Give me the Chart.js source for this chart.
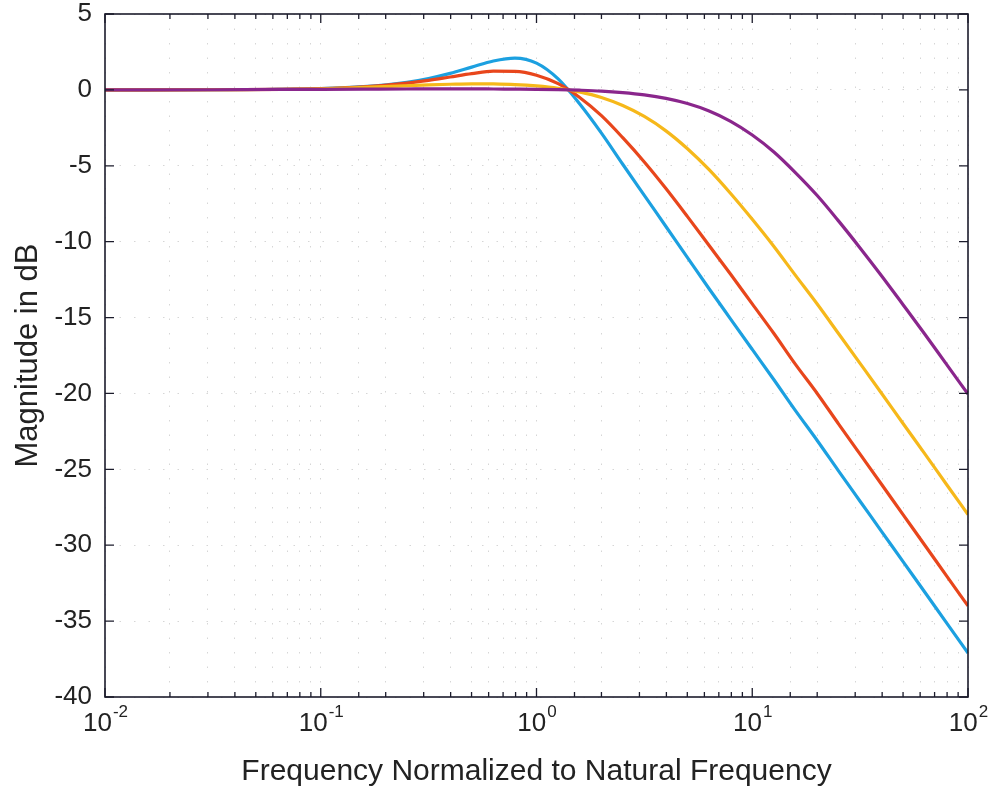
<!DOCTYPE html>
<html>
<head>
<meta charset="utf-8">
<script src="https://cdn.jsdelivr.net/npm/chart.js@4.4.0/dist/chart.umd.min.js"></script>
<style>
  html, body { margin: 0; padding: 0; background: #fff; }
  #wrap { width: 989px; height: 795px; }
</style>
</head>
<body>
<div id="wrap"><canvas id="myChart" width="989" height="795"></canvas></div>
<script>
// DATOS
const freqs = [0.01, 0.0316, 0.1, 0.158, 0.251, 0.316, 0.398, 0.501, 0.631, 0.794,
  1, 1.26, 1.58, 2.0, 2.51, 3.16, 3.98, 5.01, 6.31, 7.94,
  10, 12.6, 15.8, 20, 25.1, 31.6, 39.8, 50.1, 63.1, 79.4, 100]

const blueDb = [0, 0.01, 0.09, 0.21, 0.5, 0.75, 1.09, 1.5, 1.9, 2.09,
  1.76, 0.72, -0.9, -2.85, -4.9, -6.95, -9.0, -11.05, -13.1, -15.1,
  -17.1, -19.1, -21.1, -23.1, -25.1, -27.1, -29.1, -31.1, -33.1, -35.1, -37.1]

const redDb = [0, 0.01, 0.08, 0.2, 0.45, 0.63, 0.85, 1.07, 1.23, 1.22,
  0.97, 0.41, -0.48, -1.7, -3.15, -4.75, -6.5, -8.35, -10.25, -12.15,
  -14.1, -16.05, -18.05, -20.0, -22.0, -24.0, -26.0, -28.0, -30.0, -32.0, -34.0]

const yellowDb = [0, 0.01, 0.075, 0.16, 0.27, 0.33, 0.37, 0.4, 0.39, 0.35,
  0.26, 0.11, -0.13, -0.5, -1.03, -1.75, -2.7, -3.88, -5.26, -6.83,
  -8.53, -10.32, -12.19, -14.11, -16.05, -18.02, -20.0, -22.0, -23.98, -25.98, -27.98]

const purpleDb = [0, 0.01, 0.04, 0.05, 0.06, 0.07, 0.07, 0.07, 0.06, 0.05,
  0.04, 0.02, -0.02, -0.08, -0.18, -0.33, -0.56, -0.9, -1.39, -2.07,
  -2.97, -4.09, -5.43, -6.96, -8.63, -10.41, -12.26, -14.17, -16.1, -18.07, -20.04]

// etiquetas eje x: base y exponente
const xTickVals = [0.01, 0.1, 1, 10, 100]
const xTickExp = ['-2', '-1', '0', '1', '2']
const yTicks = [5, 0, -5, -10, -15, -20, -25, -30, -35, -40]

const xTitle = 'Frequency Normalized to Natural Frequency'
const yTitle = 'Magnitude in dB'

const FUENTE = '"Liberation Sans", Arial, sans-serif'

function puntos(vals) {
  return freqs.map((f, i) => ({ x: f, y: vals[i] }))
}

function esMayor(v) {
  let l = Math.log10(v)
  return Math.abs(l - Math.round(l)) < 1e-6
}

// MARCO, TICKS HACIA DENTRO Y ETIQUETAS 10^n
const marcoPlugin = {
  id: 'marco',
  afterDatasetsDraw(chart) {
    const { ctx, chartArea: a, scales } = chart
    ctx.save()
    ctx.strokeStyle = '#1c1c2c'
    ctx.lineWidth = 1.6
    ctx.strokeRect(a.left, a.top, a.right - a.left, a.bottom - a.top)
    ctx.lineWidth = 1.3
    ctx.beginPath()
    scales.x.ticks.forEach(t => {
      let px = scales.x.getPixelForValue(t.value)
      let len = esMayor(t.value) ? 9 : 5
      ctx.moveTo(px, a.bottom); ctx.lineTo(px, a.bottom - len)
      ctx.moveTo(px, a.top); ctx.lineTo(px, a.top + len)
    })
    scales.y.ticks.forEach(t => {
      let py = scales.y.getPixelForValue(t.value)
      ctx.moveTo(a.left, py); ctx.lineTo(a.left + 9, py)
      ctx.moveTo(a.right, py); ctx.lineTo(a.right - 9, py)
    })
    ctx.stroke()

    // etiquetas con superindice
    ctx.fillStyle = '#222'
    ctx.textBaseline = 'alphabetic'
    ctx.textAlign = 'left'
    xTickVals.forEach((v, i) => {
      let px = scales.x.getPixelForValue(v)
      ctx.font = '26px ' + FUENTE
      let w1 = ctx.measureText('10').width
      ctx.font = '17px ' + FUENTE
      let w2 = ctx.measureText(xTickExp[i]).width
      let x0 = px - (w1 + w2) / 2
      ctx.font = '26px ' + FUENTE
      ctx.fillText('10', x0, a.bottom + 34)
      ctx.font = '17px ' + FUENTE
      ctx.fillText(xTickExp[i], x0 + w1 + 1, a.bottom + 20)
    })
    ctx.restore()
  }
}

var ctx = document.getElementById('myChart').getContext('2d')

var chart = new Chart(ctx, {
  type: 'line',
  data: {
    datasets: [
      { label: 'blue', data: puntos(blueDb), borderColor: '#1ca0e0', order: 4 },
      { label: 'red', data: puntos(redDb), borderColor: '#e8461c', order: 3 },
      { label: 'yellow', data: puntos(yellowDb), borderColor: '#f6b81a', order: 2 },
      { label: 'purple', data: puntos(purpleDb), borderColor: '#8a268c', order: 1 }
    ]
  },
  options: {
    responsive: false,
    animation: false,
    layout: { padding: { left: 0, right: 21, top: 14, bottom: 0 } },
    elements: {
      line: { borderWidth: 3.2, cubicInterpolationMode: 'monotone', fill: false },
      point: { radius: 0 }
    },
    plugins: { legend: { display: false }, tooltip: { enabled: false } },
    scales: {
      x: {
        type: 'logarithmic',
        min: 0.01,
        max: 100,
        afterFit: s => { s.height = 98 },
        grid: { color: '#d6d6d6', lineWidth: 1, drawTicks: false },
        border: { display: false, dash: [1.5, 13] },
        ticks: { display: false, autoSkip: false },
        title: {
          display: true,
          text: xTitle,
          color: '#222',
          padding: { top: 0, bottom: 5 },
          font: { family: FUENTE, size: 30 }
        }
      },
      y: {
        min: -40,
        max: 5,
        afterFit: s => { s.width = 105; s.paddingTop = 0; s.paddingBottom = 0 },
        afterBuildTicks: s => { s.ticks = yTicks.map(v => ({ value: v })) },
        grid: { color: '#d6d6d6', lineWidth: 1, drawTicks: false },
        border: { display: false, dash: [1.5, 13] },
        ticks: {
          padding: 13,
          color: '#222',
          font: { family: FUENTE, size: 26 }
        },
        title: {
          display: true,
          text: yTitle,
          color: '#222',
          padding: { top: 10, bottom: 0 },
          font: { family: FUENTE, size: 31 }
        }
      }
    }
  },
  plugins: [marcoPlugin]
})
</script>
</body>
</html>
